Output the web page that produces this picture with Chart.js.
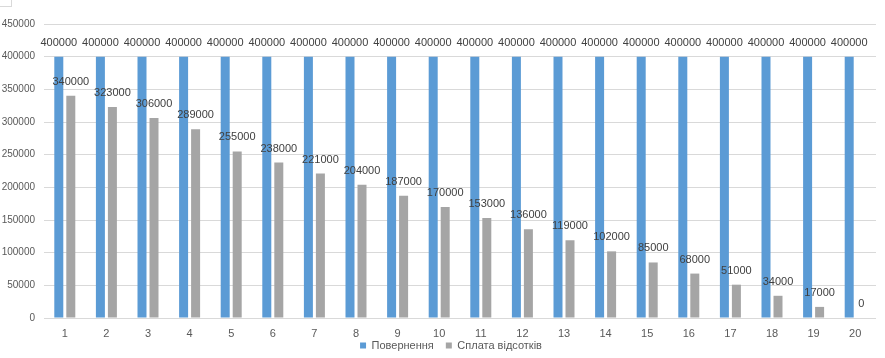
<!DOCTYPE html>
<html>
<head>
<meta charset="utf-8">
<script src="https://cdn.jsdelivr.net/npm/chart.js@4/dist/chart.umd.min.js"></script>
<style>
  html, body { margin: 0; padding: 0; background: #fff; }
  #wrap { position: relative; width: 885px; height: 358px; }
  #corner { position: absolute; left: 0; top: 0; width: 11px; height: 6px;
            border-right: 1px solid #d9d9d9; border-bottom: 1px solid #d9d9d9; }
</style>
</head>
<body>
<div id="wrap">
  <canvas id="c" width="885" height="358"></canvas>
  <div id="corner"></div>
</div>
<script>
const categories = ['1','2','3','4','5','6','7','8','9','10','11','12','13','14','15','16','17','18','19','20'];
const povernennya = [400000,400000,400000,400000,400000,400000,400000,400000,400000,400000,400000,400000,400000,400000,400000,400000,400000,400000,400000,400000];
const splataVidsotkiv = [340000,323000,306000,289000,255000,238000,221000,204000,187000,170000,153000,136000,119000,102000,85000,68000,51000,34000,17000,0];
const seriesNames = ['Повернення', 'Сплата відсотків'];
const yMin = 0, yMax = 450000, yStep = 50000;

const FONT = "'Liberation Sans', Arial, sans-serif";

const labelPlugin = {
  id: 'barLabels',
  afterDatasetsDraw(chart) {
    const ctx = chart.ctx;
    ctx.save();
    ctx.font = '11px ' + FONT;
    ctx.fillStyle = '#404040';
    ctx.textAlign = 'center';
    ctx.textBaseline = 'middle';
    chart.data.datasets.forEach((ds, i) => {
      const meta = chart.getDatasetMeta(i);
      meta.data.forEach((el, j) => {
        ctx.fillText(String(ds.data[j]), el.x, el.y - 14);
      });
    });
    ctx.restore();
  }
};

// nudge the legend into the reference position after layout
const legendShift = {
  id: 'legendShift',
  afterLayout(chart) {
    const lg = chart.legend;
    if (!lg) return;
    lg.top -= 12; lg.bottom -= 12;
    lg.left += 13; lg.right += 13;
  }
};

new Chart(document.getElementById('c'), {
  type: 'bar',
  data: {
    labels: categories,
    datasets: [
      { label: seriesNames[0], data: povernennya, backgroundColor: '#5B9BD5' },
      { label: seriesNames[1], data: splataVidsotkiv, backgroundColor: '#A5A5A5' }
    ]
  },
  options: {
    responsive: false,
    animation: false,
    devicePixelRatio: 1,
    categoryPercentage: 0.577,
    barPercentage: 0.75,
    layout: { padding: { top: 24, right: 9, bottom: -15, left: 0 } },
    plugins: {
      tooltip: { enabled: false },
      legend: {
        position: 'bottom',
        labels: {
          boxWidth: 6, boxHeight: 6, padding: 12,
          color: '#595959',
          font: { family: FONT, size: 11 }
        }
      }
    },
    scales: {
      x: {
        grid: { display: false, drawTicks: false },
        border: { display: false },
        ticks: { color: '#595959', padding: 9, font: { family: FONT, size: 11 }, maxRotation: 0 },
        afterFit(scale) { scale.height = 22; }
      },
      y: {
        min: yMin, max: yMax,
        grid: { color: '#d9d9d9', drawTicks: false },
        border: { display: false },
        ticks: {
          stepSize: yStep, padding: 9, color: '#595959',
          font: { family: FONT, size: 10 },
          callback: v => String(v)
        },
        afterFit(scale) { scale.width = 44; }
      }
    }
  },
  plugins: [labelPlugin, legendShift]
});
</script>
</body>
</html>
